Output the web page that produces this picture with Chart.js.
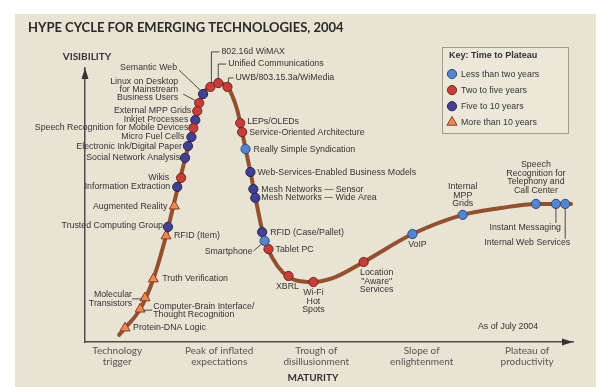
<!DOCTYPE html>
<html><head><meta charset="utf-8">
<script src="https://cdn.jsdelivr.net/npm/chart.js@4/dist/chart.umd.min.js"></script>
<style>html,body{margin:0;padding:0;background:#fff;}canvas{display:block;}</style>
</head><body>
<canvas id="c" width="614" height="387"></canvas>
<script>
// ---------- DATA (maturity 0-100 on x, visibility 0-100 on y) ----------
const curveX = [7.0, 8.2, 11.3, 14.0, 16.6, 18.9, 20.7, 22.2, 23.4, 24.6, 25.9, 27.3, 29.2, 30.2, 31.2, 32.2, 33.9, 35.3, 36.8, 38.4, 40.5, 43.1, 46.8, 51.3, 57.1, 67.1, 77.4, 85.2, 92.4, 99.6];
const curveY = [2.6, 5.1, 12.0, 23.0, 38.7, 55.5, 68.2, 78.1, 87.2, 91.6, 93.4, 94.5, 93.1, 89.8, 84.7, 76.6, 62.0, 49.3, 37.2, 30.7, 25.5, 22.6, 21.9, 23.7, 29.2, 39.4, 46.4, 48.9, 50.4, 50.4];

const lessThan2Names = ['Really Simple Syndication', 'Smartphone', 'VoIP', 'Internal\nMPP\nGrids', 'Speech\nRecognition for\nTelephony and\nCall Center', 'Instant Messaging', 'Internal Web Services'];
const lessThan2X = [32.9, 36.8, 67.1, 77.4, 92.4, 96.5, 98.4];
const lessThan2Y = [70.4, 36.9, 39.4, 46.4, 50.4, 50.4, 50.4];

const twoTo5Names = ['Linux on Desktop\nfor Mainstream\nBusiness Users', 'External MPP Grids', 'Speech Recognition for Mobile Devices', 'Wikis', '802.16d WiMAX', 'Unified Communications', 'UWB/803.15.3a/WiMedia', 'LEPs/OLEDs', 'Service-Oriented Architecture', 'Tablet PC', 'XBRL', 'Wi-Fi\nHot\nSpots', 'Location\n"Aware"\nServices'];
const twoTo5X = [23.4, 23.0, 22.2, 19.7, 25.7, 27.3, 29.2, 31.8, 32.2, 37.6, 41.7, 46.8, 57.1];
const twoTo5Y = [87.2, 84.3, 78.1, 59.9, 93.1, 94.5, 93.1, 79.9, 76.6, 33.9, 24.1, 21.9, 29.2];

const fiveTo10Names = ['Semantic Web', 'Inkjet Processes', 'Micro Fuel Cells', 'Electronic Ink/Digital Paper', 'Social Network Analysis', 'Information Extraction', 'Trusted Computing Group', 'Web-Services-Enabled Business Models', 'Mesh Networks — Sensor', 'Mesh Networks — Wide Area', 'RFID (Case/Pallet)'];
const fiveTo10X = [24.2, 22.6, 21.8, 21.1, 20.5, 18.9, 17.0, 33.9, 34.5, 34.9, 36.3];
const fiveTo10Y = [90.5, 81.0, 74.8, 71.5, 67.2, 56.6, 42.0, 62.0, 55.8, 52.6, 40.1];

const moreThan10Names = ['Protein-DNA Logic', 'Computer-Brain Interface/\nThought Recognition', 'Molecular\nTransistors', 'Truth Verification', 'RFID (Item)', 'Augmented Reality'];
const moreThan10X = [8.2, 11.3, 12.3, 14.0, 16.6, 18.3];
const moreThan10Y = [5.1, 12.0, 16.1, 23.0, 38.7, 49.6];

const seriesLabels = ['Less than two years', 'Two to five years', 'Five to 10 years', 'More than 10 years'];
const phaseLabels = [['Technology', 'trigger'], ['Peak of inflated', 'expectations'], ['Trough of', 'disillusionment'], ['Slope of', 'enlightenment'], ['Plateau of', 'productivity']];
const phaseX = [6.6, 27.5, 47.4, 69.0, 90.6];

// ---------- LABEL LAYOUT (pixel offsets from each marker) ----------
const labelLayout = {
  'Protein-DNA Logic': {a:'r', dx:8, dy:0},
  'Computer-Brain Interface/\nThought Recognition': {a:'r', dx:13, dy:-3, leader:[[3,1],[12,1]]},
  'Molecular\nTransistors': {a:'l', dx:-13, dy:-3, leader:[[-13,1],[-3,1]]},
  'Truth Verification': {a:'r', dx:9, dy:0},
  'RFID (Item)': {a:'r', dx:8, dy:0},
  'Augmented Reality': {a:'l', dx:-7, dy:0},
  'Trusted Computing Group': {a:'l', dx:-5, dy:-1},
  'Information Extraction': {a:'l', dx:-7, dy:0},
  'Wikis': {a:'l', dx:-12, dy:0},
  'Social Network Analysis': {a:'l', dx:-5, dy:0},
  'Electronic Ink/Digital Paper': {a:'l', dx:-6, dy:0},
  'Micro Fuel Cells': {a:'l', dx:-7, dy:0},
  'Speech Recognition for Mobile Devices': {a:'l', dx:-5, dy:0},
  'Inkjet Processes': {a:'l', dx:-7, dy:0},
  'External MPP Grids': {a:'l', dx:-6, dy:0},
  'Linux on Desktop\nfor Mainstream\nBusiness Users': {a:'l', dx:-21, dy:-22, leader:[[-16,-9],[-3,-2]]},
  'Semantic Web': {a:'l', dx:-26, dy:-26, leader:[[-24,-24],[-3,-4]]},
  '802.16d WiMAX': {a:'r', dx:11, dy:-35, leader:[[1,-4],[1,-35],[9,-35]]},
  'Unified Communications': {a:'r', dx:10, dy:-19, leader:[[0,-4],[0,-19],[8,-19]]},
  'UWB/803.15.3a/WiMedia': {a:'r', dx:8, dy:-9, leader:[[1,-4],[1,-9],[6,-9]]},
  'LEPs/OLEDs': {a:'r', dx:7, dy:-2},
  'Service-Oriented Architecture': {a:'r', dx:7, dy:0},
  'Really Simple Syndication': {a:'r', dx:8, dy:0},
  'Web-Services-Enabled Business Models': {a:'r', dx:7, dy:0},
  'Mesh Networks — Sensor': {a:'r', dx:8, dy:0},
  'Mesh Networks — Wide Area': {a:'r', dx:6, dy:0},
  'RFID (Case/Pallet)': {a:'r', dx:8, dy:0},
  'Smartphone': {a:'l', dx:-12, dy:11, leader:[[-11,10],[-3,3]]},
  'Tablet PC': {a:'r', dx:7, dy:0},
  'XBRL': {a:'c', dx:-1, dy:11},
  'Wi-Fi\nHot\nSpots': {a:'c', dx:0, dy:11},
  'Location\n"Aware"\nServices': {a:'c', dx:13, dy:11},
  'VoIP': {a:'c', dx:5, dy:11},
  'Internal\nMPP\nGrids': {a:'c', dx:0, dy:-28},
  'Speech\nRecognition for\nTelephony and\nCall Center': {a:'c', dx:0, dy:-39},
  'Instant Messaging': {a:'l', dx:5, dy:24, leader:[[0,4],[0,19]]},
  'Internal Web Services': {a:'l', dx:5, dy:39, leader:[[0,4],[0,35]]}
};
const LINE_H = 8.4;
const LABEL_FONT = '8.8px "Liberation Sans", Arial, sans-serif';

const pts = (xs, ys) => xs.map((x, i) => ({x: x, y: ys[i]}));

const bgPlugin = {
  id: 'bg',
  beforeDraw(chart) {
    const c = chart.ctx;
    c.save();
    c.fillStyle = '#ffffff'; c.fillRect(0, 0, chart.width, chart.height);
    c.fillStyle = '#e8e3d3'; c.fillRect(15, 14, 581, 373);
    c.restore();
  }
};

const decoPlugin = {
  id: 'deco',
  afterDraw(chart) {
    const c = chart.ctx, a = chart.chartArea;
    c.save();
    // axis arrowheads
    c.fillStyle = '#333';
    c.beginPath(); c.moveTo(a.left, a.top); c.lineTo(a.left - 3.5, a.top + 11); c.lineTo(a.left + 3.5, a.top + 11); c.closePath(); c.fill();
    c.beginPath(); c.moveTo(a.right, a.bottom); c.lineTo(a.right - 11, a.bottom - 3.5); c.lineTo(a.right - 11, a.bottom + 3.5); c.closePath(); c.fill();
    // axis names
    c.fillStyle = '#333'; c.textAlign = 'center'; c.textBaseline = 'middle';
    c.font = 'bold 10px Lato, sans-serif';
    c.fillText('VISIBILITY', 87, 57);
    c.fillText('MATURITY', 313, 378);
    c.font = LABEL_FONT; c.textAlign = 'left';
    c.fillText('As of July 2004', 478, 327);
    // key box
    c.fillStyle = '#ebe7d9'; c.fillRect(442.5, 47.5, 126, 86);
    c.strokeStyle = '#a29c8e'; c.lineWidth = 1; c.strokeRect(442.5, 47.5, 126, 86);
    c.fillStyle = '#333'; c.font = 'bold 9px "Liberation Sans", Arial, sans-serif';
    c.fillText('Key: Time to Plateau', 449, 56);
    c.font = '8.8px "Liberation Sans", Arial, sans-serif';
    let k = 0;
    chart.data.datasets.forEach(ds => {
      if (!ds.names) return;
      const y = 74 + k * 16.1;
      c.fillStyle = ds.backgroundColor; c.strokeStyle = ds.borderColor; c.lineWidth = 1;
      Chart.helpers.drawPoint(c, {pointStyle: ds.pointStyle, radius: ds.pointRadius, borderWidth: 1, rotation: 0}, 452, y);
      c.fillStyle = '#333';
      c.fillText(ds.label, 461, y + 0.5);
      k++;
    });
    c.restore();
  },
  afterDatasetsDraw(chart) {
    const c = chart.ctx;
    c.save();
    c.font = LABEL_FONT;
    c.textBaseline = 'middle';
    c.strokeStyle = '#3a3a3a'; c.lineWidth = 0.9;
    chart.data.datasets.forEach((ds, di) => {
      if (!ds.names) return;
      const meta = chart.getDatasetMeta(di);
      ds.names.forEach((name, j) => {
        const el = meta.data[j];
        const L = labelLayout[name] || {a:'r', dx:7, dy:0};
        if (L.leader) {
          c.beginPath();
          L.leader.forEach((p, q) => { const fx = el.x + p[0], fy = el.y + p[1]; if (q) c.lineTo(fx, fy); else c.moveTo(fx, fy); });
          c.stroke();
        }
        c.fillStyle = '#333';
        c.textAlign = {l:'right', r:'left', c:'center'}[L.a];
        name.split('\n').forEach((line, q) => c.fillText(line, el.x + L.dx, el.y + L.dy + q * LINE_H));
      });
    });
    c.restore();
  }
};

new Chart(document.getElementById('c'), {
  type: 'scatter',
  data: {
    datasets: [
      {label: seriesLabels[0], names: lessThan2Names, data: pts(lessThan2X, lessThan2Y), pointStyle: 'circle', pointRadius: 4.6, backgroundColor: '#5584cc', borderColor: '#2c4a86', borderWidth: 1},
      {label: seriesLabels[1], names: twoTo5Names, data: pts(twoTo5X, twoTo5Y), pointStyle: 'circle', pointRadius: 4.6, backgroundColor: '#c43f39', borderColor: '#7a231f', borderWidth: 1},
      {label: seriesLabels[2], names: fiveTo10Names, data: pts(fiveTo10X, fiveTo10Y), pointStyle: 'circle', pointRadius: 4.6, backgroundColor: '#43418f', borderColor: '#25245a', borderWidth: 1},
      {label: seriesLabels[3], names: moreThan10Names, data: pts(moreThan10X, moreThan10Y), pointStyle: 'triangle', pointRadius: 5.8, backgroundColor: '#ea8b55', borderColor: '#8a3d1c', borderWidth: 1},
      {label: 'Hype cycle', data: pts(curveX, curveY), showLine: true, pointRadius: 0, borderColor: '#93502f', borderWidth: 4, cubicInterpolationMode: 'monotone', borderCapStyle: 'round', clip: false}
    ]
  },
  options: {
    responsive: false, animation: false, devicePixelRatio: 1,
    layout: {padding: {left: 28, right: 41, top: 0, bottom: 0}},
    plugins: {
      legend: {display: false},
      tooltip: {enabled: false},
      title: {display: true, text: 'HYPE CYCLE FOR EMERGING TECHNOLOGIES, 2004', align: 'start', color: '#2a2a2a',
        font: {family: 'Lato', size: 13, weight: 'bold', lineHeight: 1.2}, padding: {top: 20, bottom: 32.4}}
    },
    scales: {
      x: {type: 'linear', min: 0, max: 100, position: 'bottom',
        grid: {display: false, drawTicks: false},
        border: {display: true, color: '#4d4d4d', width: 1.5},
        afterBuildTicks: s => { s.ticks = phaseX.map(v => ({value: v})); },
        afterFit: s => { s.height = 45; },
        ticks: {autoSkip: false, maxRotation: 0, padding: 3, color: '#555', font: {family: 'Lato', size: 10, lineHeight: 1.1},
          callback: (v, i) => phaseLabels[i]}},
      y: {type: 'linear', min: 0, max: 100,
        grid: {display: false, drawTicks: false},
        border: {display: true, color: '#4d4d4d', width: 1.5},
        ticks: {display: false},
        afterFit: s => { s.width = 57; }}
    }
  },
  plugins: [bgPlugin, decoPlugin]
});
</script>
</body></html>
